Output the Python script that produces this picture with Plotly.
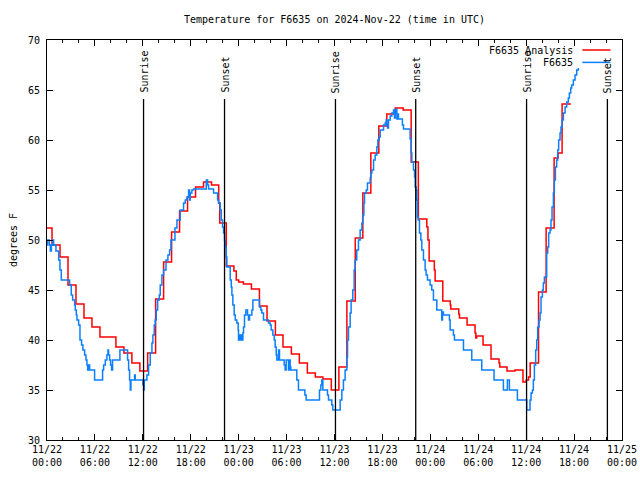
import pandas as pd
import plotly.graph_objects as go

START = pd.Timestamp("2024-11-22 00:00")

# Analysis (red), hours since 11/22 00:00 UTC and temperature (F)
red_hours = [0.0, 0.63, 1.63, 2.63, 3.63, 4.63, 5.63, 6.63, 8.63, 9.63, 10.63, 11.63,
             12.6, 13.6, 14.6, 15.6, 16.6, 17.6, 18.6, 19.6, 20.6, 21.5, 21.63, 22.45,
             23.4, 23.7, 24.0, 24.6, 25.6, 26.6, 27.55, 28.6, 29.55, 30.6, 31.6, 32.6,
             33.6, 34.55, 35.6, 36.55, 37.55, 38.6, 39.55, 40.55, 41.55, 42.55, 43.6,
             44.6, 45.6, 46.5, 47.56, 47.7, 47.85, 48.5, 48.6, 49.56, 50.5, 50.56, 51.56,
             51.65, 52.6, 53.6, 53.7, 53.8, 54.6, 55.6, 56.6, 56.7, 57.6, 58.6, 59.6,
             60.0, 60.3, 60.5, 61.55, 62.5, 63.5, 64.0, 64.5, 65.6]
red_temps = [51.2, 49.5, 48.3, 45.5, 43.6, 42.2, 41.3, 40.3, 39.3, 38.7, 37.7, 36.9,
             38.7, 44.1, 47.8, 50.8, 52.9, 54.3, 55.3, 55.8, 55.5, 53.7, 51.7, 47.4,
             46.9, 46.0, 45.8, 45.6, 45.1, 43.4, 41.9, 40.5, 39.3, 38.6, 37.7, 36.7,
             36.3, 36.1, 35.0, 37.3, 43.9, 50.2, 54.7, 58.7, 61.4, 62.6, 63.2,
             63.0, 57.8, 52.1, 51.3, 50.0, 47.9, 47.0, 45.9, 43.9, 43.5, 43.1, 42.6,
             42.2, 41.5, 40.7, 40.2, 40.4, 39.5, 38.1, 37.7, 37.3, 36.9, 37.0, 35.8,
             36.0, 36.3, 37.7, 44.8, 51.2, 58.2, 58.7, 63.6, 63.6]

# Observations (blue)
blue_hours = [0.0, 0.08, 0.3, 0.42, 0.55, 0.75, 0.83, 1.12, 1.46, 1.62, 1.79, 2.83, 3.04,
              3.21, 3.46, 3.54, 3.67, 3.75, 3.96, 4.13, 4.33, 4.5, 4.71, 4.88, 5.0, 5.09,
              5.21, 5.34, 5.96, 6.96, 7.09, 7.3, 7.5, 7.63, 7.71, 7.84, 7.96, 8.09, 8.21,
              9.13, 10.09, 10.22, 10.34, 10.43, 10.51, 10.97, 11.05, 12.01, 12.1, 12.18,
              12.51, 12.72, 12.93, 13.14, 13.26, 13.43, 13.55, 13.68, 13.85, 14.06, 14.18,
              14.39, 14.6, 14.9, 15.14, 15.35, 15.52, 16.02, 16.27, 16.68, 17.1, 17.31,
              17.52, 17.73, 17.85, 17.94, 18.14, 18.35, 19.94, 20.11, 20.23, 20.86, 21.36,
              21.48, 21.69, 21.82, 21.98, 22.11, 22.23, 22.32, 22.44, 22.52, 22.94, 23.07,
              23.15, 23.27, 23.44, 23.57, 23.77, 23.94, 23.98, 24.11, 24.19, 24.32, 24.4,
              24.53, 24.61, 24.73, 24.9, 25.11, 25.23, 25.36, 25.65, 25.78, 26.61, 26.78,
              26.9, 27.11, 27.74, 27.95, 28.07, 28.28, 28.45, 28.57, 28.7, 28.78, 28.99,
              29.11, 29.7, 29.82, 29.95, 30.24, 30.37, 30.45, 30.53, 31.28, 31.49, 32.29,
              32.45, 34.12, 34.29, 34.41, 34.54, 35.12, 35.25, 35.66, 35.79, 36.71, 36.92,
              37.12, 37.33, 37.54, 37.63, 37.75, 37.96, 38.08, 38.29, 38.46, 38.58, 38.79,
              39.0, 39.21, 39.43, 39.55, 39.68, 39.76, 39.97, 40.13, 40.47, 40.55, 40.68,
              40.89, 41.09, 41.3, 41.43, 41.6, 41.72, 42.14, 42.35, 42.47, 42.55, 42.64,
              42.76, 42.97, 43.18, 43.39, 43.51, 43.6, 43.72, 43.81, 43.93, 44.01, 44.5,
              44.64, 45.47, 45.6, 45.68, 45.89, 46.02, 46.1, 46.22, 46.31, 46.39, 46.5,
              46.64, 46.81, 46.93, 47.14, 47.35, 47.47, 47.64, 47.97, 48.18, 48.39, 48.81,
              49.43, 49.52, 49.64, 50.39, 50.48, 50.89, 51.02, 52.15, 53.19, 54.44, 55.98,
              57.15, 57.65, 57.9, 58.9, 60.07, 60.48, 60.61, 60.78, 60.9, 61.03, 61.19,
              61.32, 61.44, 61.61, 61.74, 61.86, 62.03, 62.15, 62.28, 62.57, 62.7, 62.82,
              62.99, 63.11, 63.24, 63.41, 63.53, 63.66, 63.82, 63.95, 64.07, 64.24, 64.36,
              64.49, 64.66, 64.87, 65.07, 65.28, 65.41, 65.58, 65.7, 65.91, 66.12, 66.33,
              66.53]
blue_temps = [49.5, 50.0, 49.5, 48.9, 49.5, 50.0, 49.5, 48.9, 48.0, 47.0, 46.0, 45.5, 44.5,
              44.0, 43.5, 43.0, 42.5, 42.0, 41.5, 40.0, 39.5, 39.0, 38.5, 38.0, 37.5, 37.0,
              37.5, 37.0, 36.0, 37.0, 37.5, 38.0, 38.5, 39.0, 38.5, 38.0, 37.5, 37.0, 38.0,
              39.0, 38.0, 37.0, 36.0, 35.0, 36.0, 36.5, 36.0, 35.5, 35.0, 36.0,
              36.5, 37.5, 38.7, 39.7, 40.5, 41.5, 42.0, 43.0, 44.0, 44.5, 45.5,
              46.5, 47.0, 48.0, 48.5, 49.0, 50.0, 51.2, 52.0, 53.0, 53.7, 54.0,
              54.3, 55.0, 54.0, 54.7, 55.0, 55.1, 56.0, 55.5, 55.1, 54.7, 54.0,
              53.7, 53.0, 52.0, 51.3, 50.7, 50.0, 49.3, 48.3, 47.3, 46.0, 45.3,
              44.5, 43.5, 42.5, 42.0, 41.7, 41.0, 40.0, 40.5, 40.0, 40.5, 40.0,
              40.7, 41.3, 42.5, 43.0, 42.5, 42.0, 42.5, 43.0, 44.0, 43.3, 43.0,
              42.7, 42.0, 41.7, 41.5, 41.0, 40.5, 40.0, 39.3, 38.5, 38.0, 39.0,
              38.0, 37.5, 37.0, 38.0, 37.0, 38.0, 37.3, 37.0, 36.0, 35.0, 34.5,
              34.0, 35.0, 35.5, 36.0, 35.0, 34.5, 34.0, 33.5, 33.0, 34.0, 35.0,
              36.0, 37.0, 38.3, 40.0, 41.3, 42.7, 44.0, 45.0, 47.0, 48.0, 49.0,
              50.0, 51.0, 51.7, 52.5, 53.7, 54.7, 55.0, 55.7, 56.2, 56.7, 57.0,
              58.0, 58.5, 59.3, 60.0, 60.3, 61.0, 61.5, 61.7, 62.0, 61.5, 61.2,
              62.0, 62.4, 62.7, 63.0, 62.2, 62.7, 63.1, 62.1, 62.6, 62.1, 61.5,
              61.1, 60.1, 58.7, 57.8, 57.0, 56.3, 55.3, 55.0, 54.0, 52.3, 52.0,
              50.7, 50.0, 49.0, 48.0, 47.0, 46.5, 46.0, 45.5, 45.0, 44.0, 43.0,
              42.0, 42.8, 42.5, 42.0, 41.0, 40.5, 40.0, 39.0, 38.0, 37.0, 36.0,
              35.0, 36.0, 35.0, 34.0, 33.0, 34.0, 34.7, 35.0, 36.0, 37.5, 39.0,
              40.0, 41.3, 42.0, 42.7, 44.3, 45.0, 45.7, 46.3, 48.7, 49.3, 50.7,
              51.0, 52.0, 53.3, 54.7, 56.0, 57.3, 58.0, 59.0, 60.0, 60.7, 61.3,
              62.0, 62.7, 63.3, 63.8, 64.2, 64.7, 65.2, 65.5, 66.0, 66.5, 67.0,
              67.2]

# Sun events (hours since start)
sun_labels = ["Sunrise", "Sunset", "Sunrise", "Sunset", "Sunrise", "Sunset"]
sun_hours = [12.09, 22.23, 36.12, 46.17, 60.05, 70.17]

def to_time(hours):
    return START + pd.to_timedelta(pd.Series(hours), unit="h")

FONT = "DejaVu Sans Mono"
RED = "#ff0000"
BLUE = "#0a80ff"
W, H = 640, 480

fig = go.Figure()
fig.add_trace(go.Scatter(x=to_time(red_hours), y=red_temps, mode="lines",
                         line=dict(color=RED, width=1.5, shape="hv"),
                         name="F6635 Analysis", showlegend=False))
fig.add_trace(go.Scatter(x=to_time(blue_hours), y=blue_temps, mode="lines",
                         line=dict(color=BLUE, width=1.5, shape="hv"),
                         name="F6635", showlegend=False))

sun_times = to_time(sun_hours)
for t, lab in zip(sun_times, sun_labels):
    fig.add_shape(type="line", x0=t, x1=t, y0=30, y1=64.1, xref="x", yref="y",
                  line=dict(color="black", width=1.3))
    fig.add_annotation(x=t, y=64.5, xref="x", yref="y", text=lab, showarrow=False,
                       textangle=-90, xanchor="center", yanchor="bottom",
                       font=dict(family=FONT, size=10, color="black"))

# legend (gnuplot style: text then sample line)
legend_items = [("F6635 Analysis", RED), ("F6635", BLUE)]
for i, (lab, col) in enumerate(legend_items):
    yy = 0.975 - i * 0.031
    fig.add_annotation(x=0.918, y=yy, xref="paper", yref="paper", text=lab,
                       showarrow=False, xanchor="right", yanchor="middle",
                       font=dict(family=FONT, size=10, color="black"))
    fig.add_shape(type="line", x0=0.931, x1=0.980, y0=yy, y1=yy, xref="paper",
                  yref="paper", line=dict(color=col, width=1.5))

fig.add_annotation(x=-0.059, y=0.5, xref="paper", yref="paper", text="degrees F",
                   showarrow=False, textangle=-90, xanchor="center", yanchor="middle",
                   font=dict(family=FONT, size=10, color="black"))

fig.update_layout(
    width=W, height=H, autosize=False,
    margin=dict(l=47, r=18, t=40, b=40),
    paper_bgcolor="white", plot_bgcolor="white",
    font=dict(family=FONT, size=10, color="black"),
    title=dict(text="Temperature for F6635 on 2024-Nov-22 (time in UTC)",
               x=0.5, xref="paper", y=1 - 19 / H, yanchor="middle",
               font=dict(family=FONT, size=10, color="black")),
    showlegend=False,
)
fig.update_xaxes(range=[START, START + pd.Timedelta(hours=72)],
                 tickformat="%m/%d<br>%H:%M", dtick=6 * 3600 * 1000,
                 tick0=START, ticks="inside", ticklen=6, tickcolor="black",
                 showline=True, linecolor="black", linewidth=1, mirror="ticks",
                 showgrid=False, zeroline=False, ticklabeloverflow="allow",
                 automargin=False,
                 minor=dict(dtick=2 * 3600 * 1000, ticks="inside", ticklen=3,
                            tickcolor="black", showgrid=False))
fig.update_yaxes(range=[30, 70], dtick=5, ticks="inside", ticklen=6, tickcolor="black",
                 showline=True, linecolor="black", linewidth=1, mirror="ticks",
                 showgrid=False, zeroline=False, ticklabelstandoff=4, automargin=False)

fig.write_html("out.html",
               config={"responsive": False, "displayModeBar": False},
               post_script="document.body.style.margin='0px';")
